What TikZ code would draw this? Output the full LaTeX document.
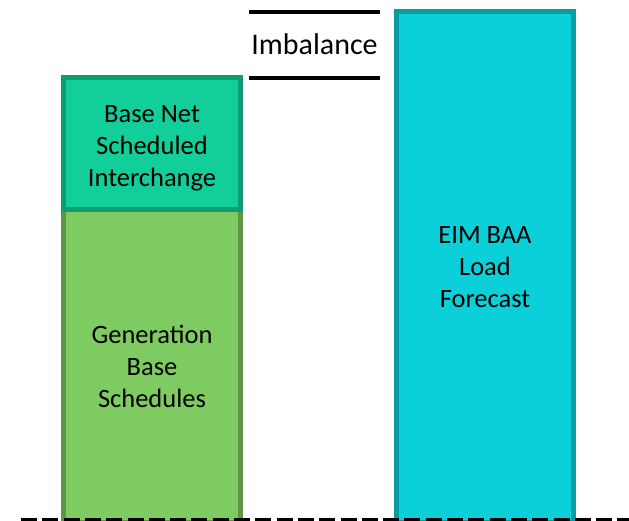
\documentclass[tikz,border=0pt]{standalone}
\usepackage{fontspec}
\setmainfont{Carlito}
\usetikzlibrary{positioning}
\definecolor{nsifill}{HTML}{12CF9A}
\definecolor{nsidraw}{HTML}{0F9B73}
\definecolor{genfill}{HTML}{7ECB62}
\definecolor{gendraw}{HTML}{5F9646}
\definecolor{loadfill}{HTML}{0BD0DA}
\definecolor{loaddraw}{HTML}{0A9CA2}
\tikzset{%
  barbox/.style={rectangle,line width=5pt,minimum width=177pt,inner sep=0pt,
    align=center,font=\fontsize{26.5}{32}\selectfont},
  bartext/.style={inner sep=0pt,align=center,font=\fontsize{26.5}{32}\selectfont},
  imbline/.style={line width=4pt},
  baseline/.style={line width=3pt,dash pattern=on 16pt off 5.3pt}
}
\begin{document}
\begin{tikzpicture}[x=1pt,y=1pt]
    \useasboundingbox (0,0) rectangle (629,521);
    \clip (0,0) rectangle (629,521);
    \node[barbox,fill=genfill,draw=gendraw,minimum height=313.5pt] (genbase) at (152,154.75)
        {Generation\\Base\\Schedules};
    \node[barbox,fill=nsifill,draw=nsidraw,minimum height=132pt] (basensi) at (152,377.5) {};
    \node[bartext] (basensitext) at ([yshift=-5pt]basensi.center)
        {Base Net\\Scheduled\\Interchange};
    \node[barbox,fill=loadfill,draw=loaddraw,minimum height=511.5pt] (eimload) at (485,253.75)
        {EIM BAA\\Load\\Forecast};
    % imbalance band
    \node[font=\fontsize{30}{36}\selectfont] (imbalance) at (314.5,477) {Imbalance};
    \coordinate (imbtopl) at (249,509);
    \coordinate (imbtopr) at (380,509);
    \coordinate (imbbotl) at (249,443);
    \coordinate (imbbotr) at (380,443);
    \draw[imbline] (imbtopl) -- (imbtopr);
    \draw[imbline] (imbbotl) -- (imbbotr);
    \coordinate (basel) at (21,1.5);
    \coordinate (baser) at (640,1.5);
    \draw[baseline] (basel) -- (baser);
\end{tikzpicture}
\end{document}
